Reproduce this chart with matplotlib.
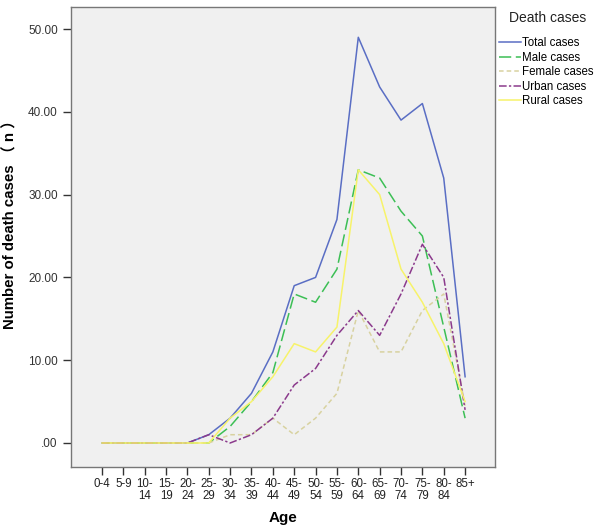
import matplotlib
matplotlib.use("Agg")
import matplotlib.pyplot as plt

plt.rcParams['font.family'] = ['Liberation Sans', 'Noto Sans CJK SC', 'DejaVu Sans']

ages = ["0-4", "5-9", "10-\n14", "15-\n19", "20-\n24", "25-\n29", "30-\n34", "35-\n39",
        "40-\n44", "45-\n49", "50-\n54", "55-\n59", "60-\n64", "65-\n69", "70-\n74",
        "75-\n79", "80-\n84", "85+"]
total = [0, 0, 0, 0, 0, 1, 3, 6, 11, 19, 20, 27, 49, 43, 39, 41, 32, 8]
male = [0, 0, 0, 0, 0, 0, 2, 5, 8.5, 18, 17, 21, 33, 32, 28, 25, 14, 3]
female = [0, 0, 0, 0, 0, 0, 1, 1, 3, 1, 3, 6, 16, 11, 11, 16, 18, 4.5]
urban = [0, 0, 0, 0, 0, 1, 0, 1, 3, 7, 9, 13, 16, 13, 18, 24, 20, 4]
rural = [0, 0, 0, 0, 0, 0, 3, 5, 8, 12, 11, 14, 33, 30, 21, 17, 12, 5]
yticks = [0, 10, 20, 30, 40, 50]
ytick_labels = [".00", "10.00", "20.00", "30.00", "40.00", "50.00"]

fig = plt.figure(figsize=(6, 5.32), dpi=100)
ax = fig.add_axes([71/600, 1-467/532, (495-71)/600, (467-7)/532])
ax.set_facecolor('#f0f0f0')
x = list(range(len(ages)))

ax.plot(x, total, color='#5a6ec4', lw=1.1, ls='-', label='Total cases')
ax.plot(x, male, color='#3cbf55', lw=1.1, ls=(0, (8, 3)), label='Male cases')
ax.plot(x, female, color='#d8d2a0', lw=1.1, ls=(0, (3, 2)), label='Female cases')
ax.plot(x, urban, color='#8b3a8c', lw=1.1, ls=(0, (5, 1.5, 1.5, 1.5)), label='Urban cases')
ax.plot(x, rural, color='#f7f36a', lw=1.1, ls='-', label='Rural cases')

ax.set_xlim(-1.45, 18.4)
ax.set_ylim(-2.9, 52.66)
ax.set_xticks(x)
ax.set_xticklabels(ages, fontsize=8.3, linespacing=0.95, color='#222222')
ax.set_yticks(yticks)
ax.set_yticklabels(ytick_labels, fontsize=8.5, color='#333333')
ax.tick_params(axis='both', direction='out', length=6, width=1, color='#333333')
ax.tick_params(axis='x', pad=2)
for sp in ax.spines.values():
    sp.set_color('#777777')
    sp.set_linewidth(1)

ax.set_xlabel('Age', fontsize=11, fontweight='bold', labelpad=7)
ax.set_ylabel('Number of death cases （ n ）', fontsize=10.8, fontweight='bold')
ax.yaxis.set_label_coords(-0.125, 0.535)

fig.text(509/600, 1-18/532, 'Death cases', fontsize=10, va='center', ha='left',
         color='#222222')
leg = fig.legend(loc='upper left', bbox_to_anchor=(499/600, 1-37/532), frameon=False,
                 fontsize=8.3, handlelength=1.9, handletextpad=0.1,
                 labelspacing=0.22, borderaxespad=0, borderpad=0)

fig.savefig('out.png', dpi=100, facecolor='white')
